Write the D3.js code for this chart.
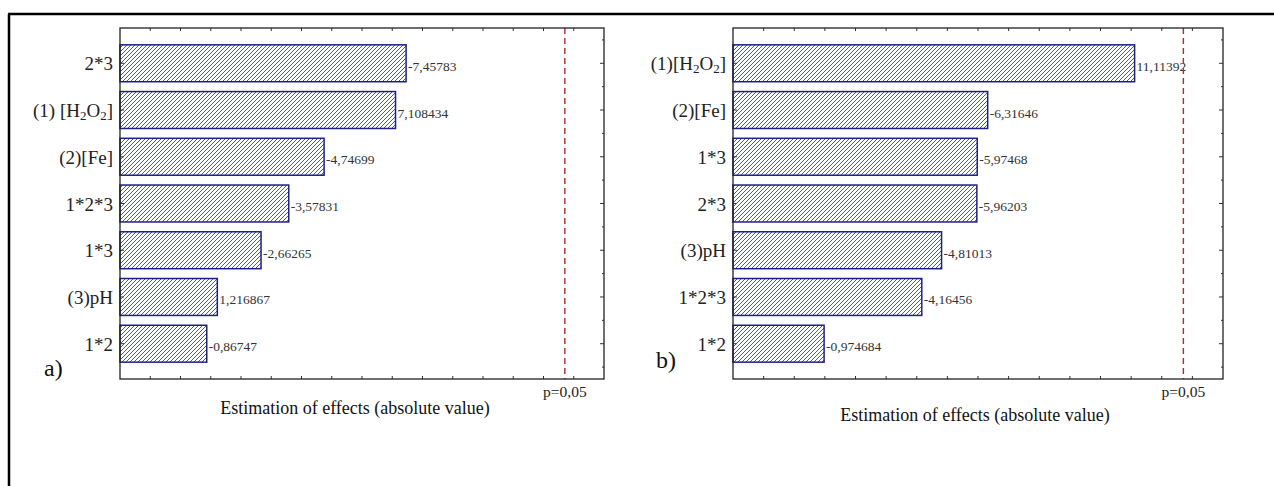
<!DOCTYPE html>
<html>
<head>
<meta charset="utf-8">
<script src="https://cdn.jsdelivr.net/npm/d3@7"></script>
<style>
  body { margin: 0; background: #fff; }
  svg { display: block; }
  text { font-family: "Liberation Serif", "Times New Roman", serif; }
</style>
</head>
<body>
<div id="chart"></div>
<script>
//panel a) - factors sorted by effect
var factorsA = ["2*3", "(1) [H_2O_2]", "(2)[Fe]", "1*2*3", "1*3", "(3)pH", "1*2"];
var effectsA = [-7.45783, 7.108434, -4.74699, -3.57831, -2.66265, 1.216867, -0.86747];
//panel b)
var factorsB = ["(1)[H_2O_2]", "(2)[Fe]", "1*3", "2*3", "(3)pH", "1*2*3", "1*2"];
var effectsB = [11.11392, -6.31646, -5.97468, -5.96203, -4.81013, -4.16456, -0.974684];
//t critical value for p=0,05 (shown as dashed line)
var pValueLabel = "p=0,05";
var tCrit = 12.706;
var xDomain = [-2, 14];
var xTitle = "Estimation of effects (absolute value)";

var width = 1274;
var height = 486;

var svg = d3.select('#chart')
     .append('svg')
     .attr('width', width)
     .attr('height', height);

//hatch pattern for the bars
var defs = svg.append('defs');
var pat = defs.append('pattern')
     .attr('id', 'hatch')
     .attr('patternUnits', 'userSpaceOnUse')
     .attr('width', 4)
     .attr('height', 4);
pat.append('rect').attr('width', 4).attr('height', 4).attr('fill', '#fff');
pat.append('path')
     .attr('d', 'M-1,1 l2,-2 M0,4 l4,-4 M3,5 l2,-2')
     .attr('stroke', '#3535a8')
     .attr('stroke-width', 0.85);

//outer frame (only top and left are in the picture)
svg.append('line').attr('x1', 8).attr('x2', width).attr('y1', 14).attr('y2', 14)
     .attr('stroke', '#000').attr('stroke-width', 2.5);
svg.append('line').attr('x1', 9).attr('x2', 9).attr('y1', 14).attr('y2', height)
     .attr('stroke', '#000').attr('stroke-width', 2.5);

function fmt(v) {
     return String(v).replace('.', ',');
}

//writes "H_2O_2" style labels with subscripts
function subLabel(sel, str) {
     var parts = str.split(/_(\d)/);
     var back = 0;
     parts.forEach(function (p, i) {
          if (p === '') return;
          if (i % 2 === 1) {
               sel.append('tspan').attr('font-size', '13px').attr('dy', 3 + back).text(p);
               back = -3;
          } else {
               sel.append('tspan').attr('dy', back).text(p);
               back = 0;
          }
     });
}

function drawPanel(factors, effects, opts) {
     var top = 28, bottom = 379;
     var x = d3.scaleLinear().domain(xDomain).range([opts.left, opts.right]);
     var y = d3.scaleBand().domain(factors).range([top, bottom])
          .paddingInner(0.21).paddingOuter(0.36);
     var g = svg.append('g');

     //bars
     g.selectAll('rect.bar')
          .data(factors)
          .enter()
          .append('rect')
          .attr('class', 'bar')
          .attr('x', x(xDomain[0]))
          .attr('y', function (d) { return y(d); })
          .attr('width', function (d, i) { return x(Math.abs(effects[i])) - x(xDomain[0]); })
          .attr('height', y.bandwidth())
          .attr('fill', 'url(#hatch)')
          .attr('stroke', '#1f1f8c')
          .attr('stroke-width', 1.5);

     //value labels
     g.selectAll('text.val')
          .data(factors)
          .enter()
          .append('text')
          .attr('class', 'val')
          .attr('x', function (d, i) { return x(Math.abs(effects[i])) + 2; })
          .attr('y', function (d) { return y(d) + y.bandwidth() / 2 + 7.5; })
          .attr('font-size', '13.5px')
          .attr('fill', '#333')
          .text(function (d, i) { return fmt(effects[i]); });

     //category labels
     g.selectAll('text.cat')
          .data(factors)
          .enter()
          .append('text')
          .attr('class', 'cat')
          .attr('x', opts.left - 7)
          .attr('y', function (d) { return y(d) + y.bandwidth() / 2 + 7; })
          .attr('text-anchor', 'end')
          .attr('font-size', '19px')
          .attr('fill', '#222')
          .each(function (d) { subLabel(d3.select(this), d); });

     //ticks on the x axis (inside, top and bottom)
     var ticks = d3.range(xDomain[0] + 1, xDomain[1]);
     g.selectAll('line.tb')
          .data(ticks)
          .enter()
          .append('line')
          .attr('x1', function (d) { return x(d); })
          .attr('x2', function (d) { return x(d); })
          .attr('y1', bottom)
          .attr('y2', bottom - 3)
          .attr('stroke', '#333');
     g.selectAll('line.tt')
          .data(ticks)
          .enter()
          .append('line')
          .attr('x1', function (d) { return x(d); })
          .attr('x2', function (d) { return x(d); })
          .attr('y1', top)
          .attr('y2', top + 3)
          .attr('stroke', '#333');

     //ticks on left and right sides at the category centers and between
     var yt = [];
     factors.forEach(function (d) { yt.push(y(d) + y.bandwidth() / 2); });
     var ym = [];
     for (var i = 0; i < yt.length; i++) {
          ym.push(yt[i] - y.step() / 2);
     }
     ym.push(yt[yt.length - 1] + y.step() / 2);
     [[opts.left, 1], [opts.right, -1]].forEach(function (s) {
          g.selectAll(null).data(yt).enter().append('line')
               .attr('x1', s[0]).attr('x2', s[0] + s[1] * 4)
               .attr('y1', function (d) { return d; }).attr('y2', function (d) { return d; })
               .attr('stroke', '#333');
          if (s[1] < 0) {
               g.selectAll(null).data(ym).enter().append('line')
                    .attr('x1', s[0]).attr('x2', s[0] - 2)
                    .attr('y1', function (d) { return d; }).attr('y2', function (d) { return d; })
                    .attr('stroke', '#333');
          }
     });

     //significance line
     g.append('line')
          .attr('x1', x(tCrit)).attr('x2', x(tCrit))
          .attr('y1', top).attr('y2', bottom)
          .attr('stroke', '#b5292e')
          .attr('stroke-width', 1.4)
          .attr('stroke-dasharray', '6,4');
     g.append('text')
          .attr('x', x(tCrit))
          .attr('y', 397)
          .attr('text-anchor', 'middle')
          .attr('font-size', '15.5px')
          .attr('fill', '#222')
          .text(pValueLabel);

     //plot frame
     g.append('rect')
          .attr('x', opts.left).attr('y', top)
          .attr('width', opts.right - opts.left).attr('height', bottom - top)
          .attr('fill', 'none')
          .attr('stroke', '#222')
          .attr('stroke-width', 1.3);

     //axis title
     g.append('text')
          .attr('x', opts.titleX)
          .attr('y', opts.titleY)
          .attr('text-anchor', 'middle')
          .attr('font-size', '18px')
          .attr('fill', '#111')
          .text(xTitle);

     //panel letter
     g.append('text')
          .attr('x', opts.letterX)
          .attr('y', opts.letterY)
          .attr('font-size', '24px')
          .attr('fill', '#111')
          .text(opts.letter);
}

drawPanel(factorsA, effectsA, {left: 120, right: 604, titleX: 355, titleY: 414, letter: 'a)', letterX: 44, letterY: 376});
drawPanel(factorsB, effectsB, {left: 733, right: 1223, titleX: 975, titleY: 421, letter: 'b)', letterX: 656, letterY: 368});
</script>
</body>
</html>
